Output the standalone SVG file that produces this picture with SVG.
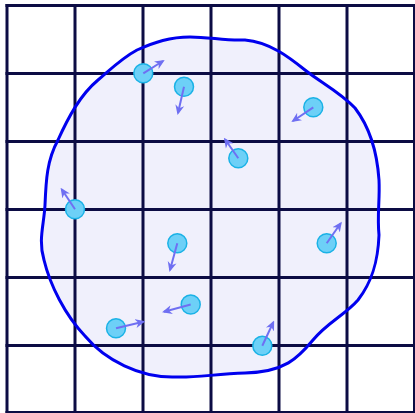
<svg xmlns="http://www.w3.org/2000/svg" width="415" height="413" viewBox="0 0 415 413">
<style>
.grid line{stroke:#0c0c44;stroke-width:3}
.blobfill{fill:#f0f0fc;stroke:none}
.blobline{fill:none;stroke:#0000ee;stroke-width:3;stroke-linejoin:round}
.p circle{fill:#6dd0f7;stroke:#1ab2e6;stroke-width:1.5}
.p line{stroke:#6f6ff2;stroke-width:2;marker-end:url(#ah)}
</style>
<defs>
<marker id="ah" viewBox="0 0 10 10" refX="8" refY="5" markerWidth="10" markerHeight="10" markerUnits="userSpaceOnUse" orient="auto">
<path d="M0,0.5 L10,5 L0,9.5 L3,5 z" fill="#6f6ff2"/>
</marker>
<path id="blob" d="M137,50 C155,42 170,37 190,37 C210,37 225,41 245,40 C270,42 290,58 305,70 C320,82 340,92 355,108 C368,125 377,150 379,180 C380,200 377,215 379,235 C378,262 372,282 358,300 C345,315 328,322 313,340 C298,358 285,372 245,373 C215,374 195,378 175,377 C140,378 105,360 85,336 C65,315 50,285 44,260 C38,240 44,225 45,205 C46,180 47,160 58,140 C68,118 80,95 98,80 C112,68 122,58 137,50 Z"/>
</defs>
<use href="#blob" class="blobfill"/>
<g id="grid" class="grid">
<line x1="7" y1="4" x2="7" y2="415"/>
<line x1="75" y1="4" x2="75" y2="415"/>
<line x1="143" y1="4" x2="143" y2="415"/>
<line x1="211" y1="4" x2="211" y2="415"/>
<line x1="279" y1="4" x2="279" y2="415"/>
<line x1="347" y1="4" x2="347" y2="415"/>
<line x1="414.5" y1="4" x2="414.5" y2="415"/>
<line x1="5.5" y1="5.5" x2="415" y2="5.5"/>
<line x1="5.5" y1="73.5" x2="415" y2="73.5"/>
<line x1="5.5" y1="141.5" x2="415" y2="141.5"/>
<line x1="5.5" y1="209.5" x2="415" y2="209.5"/>
<line x1="5.5" y1="277.5" x2="415" y2="277.5"/>
<line x1="5.5" y1="345.5" x2="415" y2="345.5"/>
<line x1="5.5" y1="412.5" x2="415" y2="412.5"/>
</g>
<use id="region" href="#blob" class="blobline"/>
<g id="particles">
<g id="p1" class="p"><circle cx="143.3" cy="73.3" r="9.5"/><line x1="143.3" y1="73.3" x2="163" y2="61"/></g>
<g id="p2" class="p"><circle cx="184" cy="86.7" r="9.5"/><line x1="184" y1="86.7" x2="178" y2="113"/></g>
<g id="p3" class="p"><circle cx="313.3" cy="107.3" r="9.5"/><line x1="313.3" y1="107.3" x2="293" y2="121"/></g>
<g id="p4" class="p"><circle cx="75" cy="209.3" r="9.5"/><line x1="75" y1="209.3" x2="61.7" y2="189.3"/></g>
<g id="p5" class="p"><circle cx="177.3" cy="243.3" r="9.5"/><line x1="177.3" y1="243.3" x2="170" y2="270"/></g>
<g id="p6" class="p"><circle cx="190.7" cy="304.5" r="9.5"/><line x1="190.7" y1="304.5" x2="164" y2="311.7"/></g>
<g id="p7" class="p"><circle cx="116" cy="328.3" r="9.5"/><line x1="116" y1="328.3" x2="143.3" y2="321.7"/></g>
<g id="p8" class="p"><circle cx="262.3" cy="345.7" r="9.5"/><line x1="262.3" y1="345.7" x2="273.3" y2="322.3"/></g>
<g id="p9" class="p"><circle cx="238.3" cy="158.3" r="9.5"/><line x1="238.3" y1="158.3" x2="225" y2="139.3"/></g>
<g id="p10" class="p"><circle cx="326.7" cy="243.3" r="9.5"/><line x1="326.7" y1="243.3" x2="340.7" y2="223.3"/></g>
</g>
</svg>
